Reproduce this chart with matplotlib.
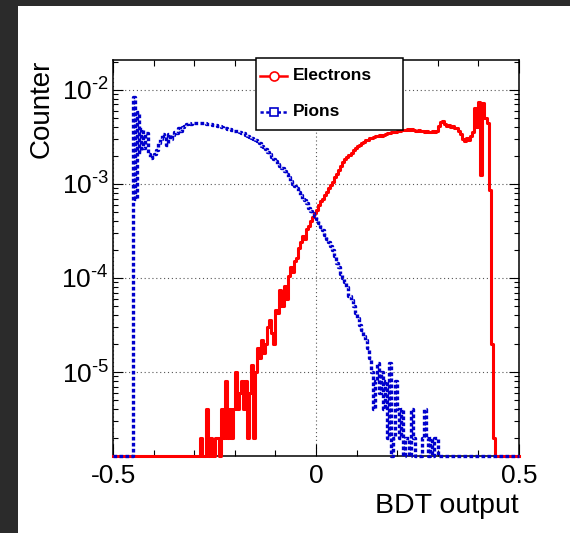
import numpy as np
import matplotlib
matplotlib.use('Agg')
import matplotlib.pyplot as plt
from matplotlib.patches import Rectangle
from matplotlib.lines import Line2D
from matplotlib.ticker import FixedLocator, LogLocator, NullFormatter, FuncFormatter

plt.rcParams['font.family'] = ['Liberation Sans', 'DejaVu Sans']
plt.rcParams['mathtext.fontset'] = 'custom'
plt.rcParams['mathtext.rm'] = 'Liberation Sans'
plt.rcParams['mathtext.it'] = 'Liberation Sans:italic'
plt.rcParams['mathtext.bf'] = 'Liberation Sans:bold'
plt.rcParams['axes.unicode_minus'] = False

# histogram binning (BDT output from -0.5 to 0.5)
BIN_WIDTH = 0.005
N_BINS = 200

# electrons: bin contents starting at left edge -0.290
electron_start = -0.290
electron_counts = [
    0, 2e-6, 0, 0, 4e-6, 0, 2e-6, 0, 2e-6, 2e-6,
    0, 4e-6, 2e-6, 8e-6, 2e-6, 4e-6, 2e-6, 4e-6, 1e-5, 4e-6,
    6e-6, 8e-6, 4e-6, 8e-6, 2e-6, 6e-6, 1.2e-5, 2e-6, 1e-5, 1.8e-5,
    1.4e-5, 2.2e-5, 1.6e-5, 2.0e-5, 3.0e-5, 3.6e-5, 2.6e-5, 2.0e-5, 4.6e-5,
    4.2e-5, 7.5e-5, 5.0e-5, 8.2e-5, 6.0e-5, 1.05e-4, 1.3e-4, 1.15e-4, 1.5e-4, 1.65e-4,
    2.1e-4, 2.4e-4, 2.8e-4, 2.6e-4, 3.3e-4, 3.6e-4, 4.0e-4, 4.4e-4,
    4.9e-4, 5.3e-4, 6.0e-4, 6.6e-4, 7.0e-4, 7.6e-4, 8.2e-4, 9.0e-4, 9.8e-4, 1.06e-3,
    1.18e-3, 1.28e-3, 1.40e-3, 1.55e-3, 1.70e-3, 1.85e-3, 1.95e-3, 2.05e-3, 2.15e-3, 2.30e-3,
    2.40e-3, 2.55e-3, 2.60e-3, 2.72e-3, 2.80e-3, 2.90e-3, 2.95e-3, 3.05e-3, 3.10e-3, 3.12e-3,
    3.20e-3, 3.20e-3, 3.30e-3, 3.25e-3, 3.35e-3, 3.40e-3, 3.45e-3, 3.50e-3, 3.55e-3, 3.55e-3,
    3.60e-3, 3.65e-3, 3.70e-3, 3.75e-3, 3.75e-3, 3.78e-3, 3.80e-3, 3.76e-3, 3.80e-3,
    3.74e-3, 3.70e-3, 3.72e-3, 3.65e-3, 3.62e-3, 3.60e-3, 3.62e-3, 3.58e-3, 3.60e-3, 3.62e-3,
    3.60e-3, 3.70e-3, 4.10e-3, 4.60e-3, 4.70e-3, 4.30e-3, 4.10e-3, 4.20e-3, 4.00e-3, 4.15e-3,
    3.90e-3, 3.95e-3, 3.70e-3, 3.40e-3, 3.00e-3, 2.85e-3, 3.05e-3, 2.90e-3, 3.20e-3, 3.60e-3,
    6.40e-3, 4.00e-3, 7.40e-3, 1.25e-3, 7.20e-3, 5.00e-3, 4.40e-3, 8.60e-4, 2.0e-5, 2e-6,
]

# pions: bin contents starting at left edge -0.450
pion_start = -0.450
pion_counts = [
    8.5e-3, 7e-4, 5.8e-3, 2.2e-3, 3.8e-3, 2.4e-3, 3.5e-3, 2.1e-3, 1.9e-3, 1.95e-3,
    2.1e-3, 2.3e-3, 2.7e-3, 3.0e-3, 3.4e-3, 3.2e-3, 2.6e-3, 3.4e-3, 3.0e-3, 3.3e-3,
    3.6e-3, 3.5e-3, 3.9e-3, 3.7e-3, 4.0e-3, 4.1e-3, 4.3e-3, 4.4e-3, 4.3e-3, 4.5e-3,
    4.4e-3, 4.5e-3, 4.5e-3, 4.4e-3, 4.45e-3, 4.4e-3, 4.35e-3, 4.35e-3, 4.3e-3,
    4.25e-3, 4.2e-3, 4.15e-3, 4.1e-3, 4.0e-3, 3.95e-3, 3.9e-3, 3.85e-3, 3.8e-3, 3.75e-3,
    3.7e-3, 3.68e-3, 3.65e-3, 3.6e-3, 3.5e-3, 3.45e-3, 3.35e-3, 3.25e-3, 3.15e-3, 3.1e-3,
    3.0e-3, 2.95e-3, 2.85e-3, 2.75e-3, 2.55e-3, 2.45e-3, 2.35e-3, 2.2e-3, 2.1e-3, 1.95e-3,
    1.85e-3, 1.75e-3, 1.65e-3, 1.55e-3, 1.48e-3, 1.38e-3, 1.28e-3, 1.2e-3, 1.08e-3, 1.0e-3,
    9.5e-4, 9.0e-4, 8.3e-4, 7.6e-4, 7.0e-4, 6.7e-4, 6.2e-4, 5.6e-4, 5.2e-4, 4.9e-4,
    4.6e-4, 4.2e-4, 3.8e-4, 3.5e-4, 3.2e-4, 2.9e-4, 2.6e-4, 2.4e-4, 2.2e-4, 2.0e-4,
    1.7e-4, 1.45e-4, 1.3e-4, 1.1e-4, 1.0e-4, 9.0e-5, 8.0e-5, 6.5e-5, 5.8e-5,
    5.0e-5, 4.2e-5, 3.8e-5, 3.2e-5, 2.8e-5, 2.4e-5, 2.2e-5, 1.8e-5, 1.4e-5, 1.0e-5,
    4e-6, 8e-6, 1.25e-5, 6e-6, 1.0e-5, 4e-6, 8e-6, 2e-6, 1.25e-5, 0,
    2e-6, 8e-6, 4e-6, 2e-6, 4e-6, 0, 2e-6, 2e-6, 0, 4e-6,
    2e-6, 0, 0, 0, 2e-6, 4e-6, 2e-6, 0, 2e-6, 0,
    2e-6, 2e-6,
]

YMIN, YMAX = 1.28e-6, 2.08e-2


def full_hist(start, counts):
    h = np.zeros(N_BINS)
    i0 = int(round((start + 0.5) / BIN_WIDTH))
    h[i0:i0 + len(counts)] = counts
    return h


edges = -0.5 + BIN_WIDTH * np.arange(N_BINS + 1)
electrons = full_hist(electron_start, electron_counts)
pions = full_hist(pion_start, pion_counts)

W, H = 570, 533
fig = plt.figure(figsize=(W / 100, H / 100), dpi=100, facecolor='#2b2b2b')

# white panel
fig.patches.append(Rectangle((18 / W, 0), 1 - 18 / W, 1 - 6 / H, transform=fig.transFigure,
                             facecolor='white', edgecolor='none', zorder=-5))

ax = fig.add_axes([113 / W, 1 - 456 / H, 406 / W, 396 / H])
ax.set_yscale('log')
ax.set_xlim(-0.5, 0.5)
ax.set_ylim(YMIN, YMAX)


def draw_hist(h, **kw):
    y = np.where(h > 0, h, YMIN)
    ax.step(edges, np.append(y, y[-1]), where='post', clip_on=False, zorder=3, **kw)


draw_hist(electrons, color='#ff0000', lw=2.2)
draw_hist(pions, color='#0000cc', lw=2.4, linestyle=(0, (1.1, 0.7)))

# axes / ticks, ROOT style
for sp in ax.spines.values():
    sp.set_linewidth(1.1)
ax.xaxis.set_major_locator(FixedLocator([-0.5, 0, 0.5]))
ax.xaxis.set_minor_locator(FixedLocator(np.arange(-0.5, 0.51, 0.1)))
ax.set_xticklabels(['-0.5', '0', '0.5'])
ax.yaxis.set_major_locator(LogLocator(base=10, numticks=20))
ax.yaxis.set_major_formatter(FuncFormatter(
    lambda v, p: r'$\mathdefault{10^{\text{-%d}}}$' % round(-np.log10(v))))
ax.yaxis.set_minor_locator(LogLocator(base=10, subs=np.arange(2, 10), numticks=20))
ax.yaxis.set_minor_formatter(NullFormatter())
ax.tick_params(which='both', direction='in', top=True, right=True, width=0.8, labelsize=19)
ax.tick_params(axis='x', which='major', length=9, pad=6)
ax.tick_params(axis='x', which='minor', length=4.5)
ax.tick_params(axis='y', which='major', length=7.5, pad=3)
ax.tick_params(axis='y', which='minor', length=3.8)
ax.grid(True, which='major', color='#555555', linestyle=(0, (1, 2.5)), lw=0.8)

fig.text(42 / W, 1 - 60 / H, 'Counter', rotation=90, ha='center', va='top', fontsize=20)
fig.text(519 / W, 1 - 513 / H, 'BDT output', ha='right', va='baseline', fontsize=20.5)

# legend box
fig.patches.append(Rectangle((256 / W, 1 - 130 / H), 147 / W, 72 / H, transform=fig.transFigure,
                             facecolor='white', edgecolor='black', lw=1.1, zorder=5))
fig.lines.append(Line2D([260 / W, 287 / W], [1 - 76 / H] * 2, transform=fig.transFigure,
                        color='#ff0000', lw=1.8, zorder=6))
fig.lines.append(Line2D([273.5 / W], [1 - 76 / H], transform=fig.transFigure, marker='o',
                        ms=6.5, mfc='white', mec='#ff0000', mew=1.2, zorder=7))
fig.lines.append(Line2D([260 / W, 287 / W], [1 - 112 / H] * 2, transform=fig.transFigure,
                        color='#0000cc', lw=1.8, linestyle=(0, (1.3, 1.0)), zorder=6))
fig.lines.append(Line2D([273.5 / W], [1 - 112 / H], transform=fig.transFigure, marker='s',
                        ms=6, mfc='white', mec='#0000cc', mew=1.2, zorder=7))
fig.text(293 / W, 1 - 76 / H, 'Electrons', ha='left', va='center', fontsize=12.5,
         fontweight='bold', zorder=8)
fig.text(293 / W, 1 - 112 / H, 'Pions', ha='left', va='center', fontsize=12.5,
         fontweight='bold', zorder=8)

fig.savefig('out.png', dpi=100, facecolor=fig.get_facecolor())
